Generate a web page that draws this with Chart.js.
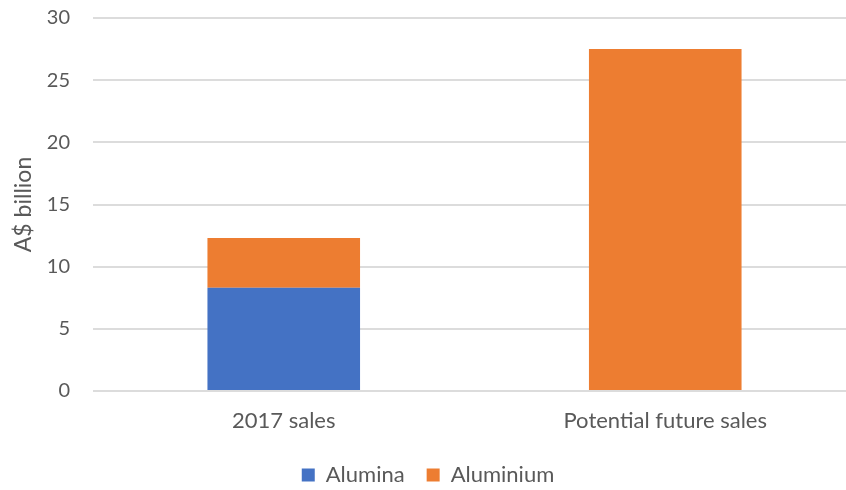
<!DOCTYPE html>
<html>
<head>
<meta charset="utf-8">
<script src="https://cdn.jsdelivr.net/npm/chart.js@4"></script>
<style>
  html, body { margin: 0; padding: 0; background: #fff; overflow: hidden; }
  canvas { display: block; }
</style>
</head>
<body>
<canvas id="chart" width="856" height="490"></canvas>
<script>
// Sales by product, A$ billion
const categories = ['2017 sales', 'Potential future sales'];
const alumina = [8.3, null];
const aluminium = [4.0, 27.5];
const yTicks = [0, 5, 10, 15, 20, 25, 30];

const FONT = 'Lato, "Open Sans", sans-serif';
const TEXT = '#595959';

new Chart(document.getElementById('chart'), {
  type: 'bar',
  data: {
    labels: categories,
    datasets: [
      { label: 'Alumina', data: alumina, backgroundColor: '#4472C4', borderWidth: 0 },
      { label: 'Aluminium', data: aluminium, backgroundColor: '#ED7D31', borderWidth: 0 }
    ]
  },
  options: {
    responsive: false,
    animation: false,
    layout: { padding: { top: 18, right: 0, bottom: -6, left: 0 } },
    datasets: { bar: { categoryPercentage: 1, barPercentage: 0.4 } },
    scales: {
      x: {
        stacked: true,
        grid: { display: false, drawTicks: false },
        border: { display: false },
        ticks: { color: TEXT, font: { family: FONT, size: 22 }, padding: 17 },
        afterFit: s => { s.height = 51; }
      },
      y: {
        stacked: true,
        min: 0, max: 30,
        afterBuildTicks: s => { s.ticks = yTicks.map(v => ({ value: v })); },
        grid: { color: '#dcdcdc', lineWidth: 2, drawTicks: false },
        border: { display: false },
        ticks: { color: TEXT, font: { family: FONT, size: 20 }, padding: 23 },
        title: { display: true, text: 'A$ billion', color: TEXT, font: { family: FONT, size: 23 }, padding: { top: 10, bottom: 0 } },
        // fixed axis width; tick-label overhang is absorbed by the layout padding
        afterFit: s => { s.width = 93; s.paddingTop = 0; s.paddingBottom = 0; }
      }
    },
    plugins: {
      tooltip: { enabled: false },
      legend: {
        position: 'bottom',
        labels: {
          color: TEXT,
          font: { family: FONT, size: 22 },
          boxWidth: 13, boxHeight: 13,
          padding: 22
        }
      }
    }
  }
});
</script>
</body>
</html>
